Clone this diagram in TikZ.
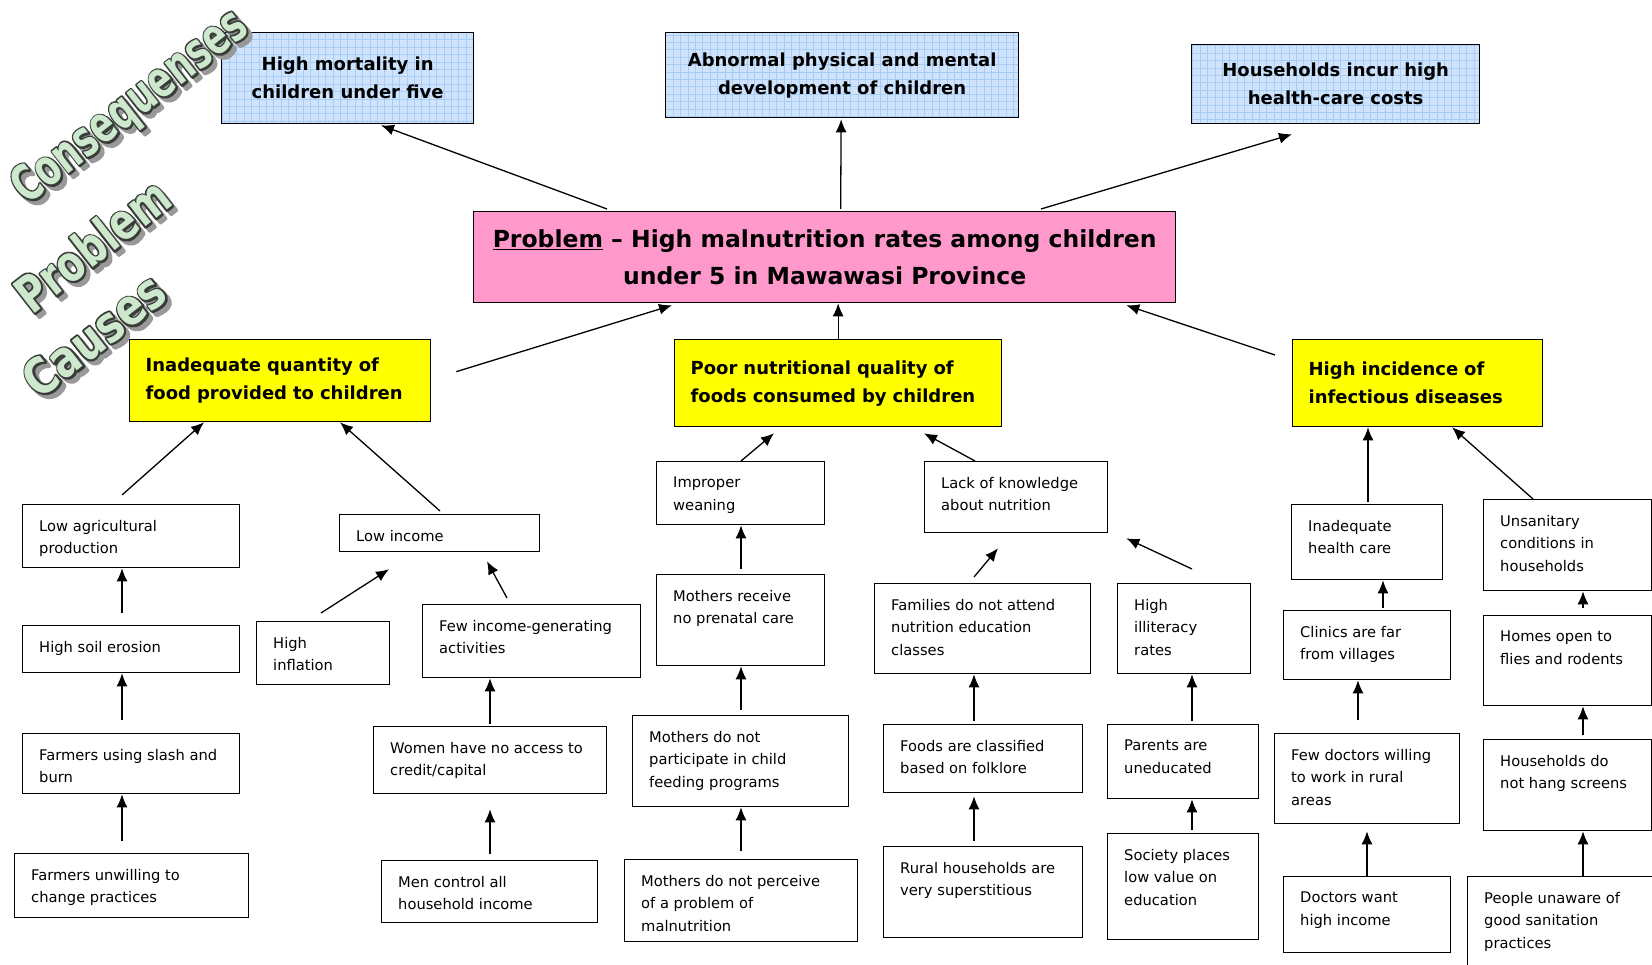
\documentclass[tikz,border=0pt]{standalone}
\usepackage{fontspec}
\setmainfont{DejaVu Sans}
\usetikzlibrary{arrows.meta}

\definecolor{probpink}{HTML}{FF99CC}
\definecolor{causeyellow}{HTML}{FFFF00}
\definecolor{conseqblue}{HTML}{CFE4FC}
\definecolor{gridblue}{HTML}{A8CDF4}
\definecolor{titlegreen}{HTML}{CDE8CD}
\definecolor{titleline}{HTML}{383C38}

% thickened word art: stroke colour (rgb) and the word
\newcommand{\outlinetext}[2]{\special{pdf:literal direct #1 RG 4.2 w 1 j 2 Tr}#2\special{pdf:literal direct 0 Tr}}

\tikzset{
	conseq/.style={draw, line width=1.3pt, fill=conseqblue, anchor=north west, align=center,
		font=\bfseries\fontsize{18}{28}\selectfont,
		path picture={\draw[gridblue, line width=0.7pt] (path picture bounding box.south west) grid[step=7.4pt] (path picture bounding box.north east);}},
	problem/.style={draw, line width=1.3pt, fill=probpink, anchor=north west, align=center,
		font=\bfseries\fontsize{23.5}{37}\selectfont},
	cause/.style={draw, line width=1.3pt, fill=causeyellow, anchor=north west, align=left,
		inner xsep=16pt, font=\bfseries\fontsize{18}{28}\selectfont},
	subcause/.style={draw, line width=1.3pt, fill=white, anchor=north west, inner sep=0pt},
	subtext/.style={anchor=north west, align=left, inner xsep=17pt, inner ysep=16pt,
		font=\fontsize{14.7}{22.5}\selectfont},
	arr/.style={-{Latex[length=13pt,width=11pt]}, line width=1.3pt},
	wordart/.style={rotate=38, transform shape, inner sep=0pt,
		font=\bfseries\fontsize{50}{50}\selectfont}
}

\begin{document}
\begin{tikzpicture}[x=1pt, y=-1pt]

	% page of the reference, in pixels
	\useasboundingbox (0,0) rectangle (1652,965);
	\clip (0,0) rectangle (1652,965);
	\fill[white] (0,0) rectangle (1652,965);

	%macro for the plain boxes, text sits in the top left corner
	\newcommand{\subcause}[6]{
		\node[subcause, minimum width=#4pt, minimum height=#5pt, label={[subtext]north west:{#6}}] (#1) at (#2,#3) {};
	}

	% consequences
	\node[conseq, minimum width=252pt, minimum height=91pt] (mortality) at (221,32) {High mortality in\\children under five};
	\node[conseq, minimum width=353pt, minimum height=85pt] (development) at (665,32) {Abnormal physical and mental\\development of children};
	\node[conseq, minimum width=288pt, minimum height=79pt] (costs) at (1191,44) {Households incur high\\health-care costs};

	% problem
	\node[problem, minimum width=702pt, minimum height=91pt] (problem) at (473,211) {\underline{Problem} – High malnutrition rates among children\\under 5 in Mawawasi Province};

	% main causes
	\node[cause, text width=269pt, minimum height=82pt] (quantity) at (129,339) {Inadequate quantity of\\food provided to children};
	\node[cause, text width=295pt, minimum height=87pt] (quality) at (674,339) {Poor nutritional quality of\\foods consumed by children};
	\node[cause, text width=218pt, minimum height=87pt] (disease) at (1292,339) {High incidence of\\infectious diseases};

	% causes of the quantity
	\subcause{lowagri}{22}{504}{217}{63}{Low agricultural\\production}
	\subcause{soil}{22}{625}{217}{47}{High soil erosion}
	\subcause{slash}{22}{733}{217}{60}{Farmers using slash and\\burn}
	\subcause{unwilling}{14}{853}{234}{64}{Farmers unwilling to\\change practices}
	\subcause{lowinc}{339}{514}{200}{37}{Low income}
	\subcause{inflation}{256}{621}{133}{63}{High\\inflation}
	\subcause{fewinc}{422}{604}{218}{73}{Few income-generating\\activities}
	\subcause{women}{373}{726}{233}{67}{Women have no access to\\credit/capital}
	\subcause{men}{381}{860}{216}{62}{Men control all\\household income}

	% causes of the quality
	\subcause{weaning}{656}{461}{168}{63}{Improper\\weaning}
	\subcause{prenatal}{656}{574}{168}{91}{Mothers receive\\no prenatal care}
	\subcause{feeding}{632}{715}{216}{91}{Mothers do not\\participate in child\\feeding programs}
	\subcause{perceive}{624}{859}{233}{82}{Mothers do not perceive\\of a problem of\\malnutrition}
	\subcause{knowledge}{924}{461}{183}{71}{Lack of knowledge\\about nutrition}
	\subcause{families}{874}{583}{216}{90}{Families do not attend\\nutrition education\\classes}
	\subcause{illiteracy}{1117}{583}{133}{90}{High\\illiteracy\\rates}
	\subcause{folklore}{883}{724}{199}{68}{Foods are classified\\based on folklore}
	\subcause{parents}{1107}{724}{151}{74}{Parents are\\uneducated}
	\subcause{superst}{883}{846}{199}{91}{Rural households are\\very superstitious}
	\subcause{society}{1107}{833}{151}{106}{Society places\\low value on\\education}

	% causes of the diseases
	\subcause{healthcare}{1291}{504}{151}{75}{Inadequate\\health care}
	\subcause{unsanitary}{1483}{499}{168}{91}{Unsanitary\\conditions in\\households}
	\subcause{clinics}{1283}{610}{167}{69}{Clinics are far\\from villages}
	\subcause{homes}{1483}{615}{168}{90}{Homes open to\\flies and rodents}
	\subcause{doctors}{1274}{733}{185}{90}{Few doctors willing\\to work in rural\\areas}
	\subcause{screens}{1483}{739}{168}{91}{Households do\\not hang screens}
	\subcause{docincome}{1283}{876}{167}{76}{Doctors want\\high income}
	\subcause{unaware}{1467}{876}{220}{110}{People unaware of\\good sanitation\\practices}

	% problem to consequences
	\draw[arr] ([shift={(134,-2)}]problem.north west) -- ([shift={(160,1)}]mortality.south west);
	\draw[arr] ([shift={(16,-2)}]problem.north) -- ([shift={(-1,1)}]development.south);
	\draw[arr] ([shift={(568,-2)}]problem.north west) -- ([shift={(101,10)}]costs.south west);

	% main causes to problem
	\draw[arr] ([shift={(25,-9)}]quantity.east) -- ([shift={(199,2)}]problem.south west);
	\draw[arr] (quality.north) -- (quality.north |- problem.south);
	\draw[arr] ([shift={(-17,16)}]disease.north west) -- ([shift={(-50,2)}]problem.south east);

	% quantity branch
	\draw[arr] ([shift={(100,-9)}]lowagri.north west) -- ([shift={(75,0)}]quantity.south west);
	\draw[arr] ([shift={(101,-3)}]lowinc.north west) -- ([shift={(211,0)}]quantity.south west);
	\draw[arr] ([shift={(100,-12)}]soil.north west) -- ([shift={(100,0)}]lowagri.south west);
	\draw[arr] ([shift={(100,-13)}]slash.north west) -- ([shift={(100,0)}]soil.south west);
	\draw[arr] ([shift={(108,-12)}]unwilling.north west) -- ([shift={(100,0)}]slash.south west);
	\draw[arr] ([shift={(65,-8)}]inflation.north west) -- ([shift={(50,17)}]lowinc.south west);
	\draw[arr] ([shift={(85,-6)}]fewinc.north west) -- ([shift={(148,9)}]lowinc.south west);
	\draw[arr] ([shift={(117,-2)}]women.north west) -- ([shift={(68,0)}]fewinc.south west);
	\draw[arr] ([shift={(109,-6)}]men.north west) -- ([shift={(117,15)}]women.south west);

	% quality branch
	\draw[arr] ([shift={(85,0)}]weaning.north west) -- ([shift={(100,6)}]quality.south west);
	\draw[arr] ([shift={(51,0)}]knowledge.north west) -- ([shift={(250,6)}]quality.south west);
	\draw[arr] ([shift={(85,-5)}]prenatal.north west) -- ([shift={(85,0)}]weaning.south west);
	\draw[arr] ([shift={(109,-5)}]feeding.north west) -- ([shift={(85,0)}]prenatal.south west);
	\draw[arr] ([shift={(117,-8)}]perceive.north west) -- ([shift={(109,0)}]feeding.south west);
	\draw[arr] ([shift={(100,-6)}]families.north west) -- ([shift={(74,15)}]knowledge.south west);
	\draw[arr] ([shift={(75,-14)}]illiteracy.north west) -- ([shift={(18,5)}]knowledge.south east);
	\draw[arr] ([shift={(91,-3)}]folklore.north west) -- ([shift={(100,0)}]families.south west);
	\draw[arr] ([shift={(91,-5)}]superst.north west) -- ([shift={(91,3)}]folklore.south west);
	\draw[arr] ([shift={(85,-3)}]parents.north west) -- ([shift={(75,0)}]illiteracy.south west);
	\draw[arr] ([shift={(85,-3)}]society.north west) -- ([shift={(85,0)}]parents.south west);

	% disease branch
	\draw[arr] ([shift={(77,-2)}]healthcare.north west) -- ([shift={(76,0)}]disease.south west);
	\draw[arr] ([shift={(50,0)}]unsanitary.north west) -- ([shift={(160,0)}]disease.south west);
	\draw[arr] ([shift={(100,-2)}]clinics.north west) -- ([shift={(92,0)}]healthcare.south west);
	\draw[arr] ([shift={(84,-13)}]doctors.north west) -- ([shift={(75,0)}]clinics.south west);
	\draw[arr] ([shift={(84,0)}]docincome.north west) -- ([shift={(93,7)}]doctors.south west);
	\draw[arr] ([shift={(100,-7)}]homes.north west) -- ([shift={(100,0)}]unsanitary.south west);
	\draw[arr] ([shift={(100,-4)}]screens.north west) -- ([shift={(100,0)}]homes.south west);
	\draw[arr] ([shift={(116,0)}]unaware.north west) -- ([shift={(100,0)}]screens.south west);

	%WORD ART LAST, IT LIES OVER THE FIRST BLUE BOX
	% shadow, dark rim, green face
	\coordinate (tc1) at (131,108);
	\coordinate (tc2) at (92,245);
	\coordinate (tc3) at (94,335);
	\node[wordart, xscale=0.7, text=black!40] (tshadow1) at ([shift={(4,4)}]tc1) {\outlinetext{0.6 0.6 0.6}{Consequenses}};
	\node[wordart, xscale=0.77, text=black!40] (tshadow2) at ([shift={(4,4)}]tc2) {\outlinetext{0.6 0.6 0.6}{Problem}};
	\node[wordart, xscale=0.83, text=black!40] (tshadow3) at ([shift={(4,4)}]tc3) {\outlinetext{0.6 0.6 0.6}{Causes}};
	\node[wordart, xscale=0.7, text=titleline] (trim1) at (tc1) {\outlinetext{0.22 0.24 0.22}{Consequenses}};
	\node[wordart, xscale=0.77, text=titleline] (trim2) at (tc2) {\outlinetext{0.22 0.24 0.22}{Problem}};
	\node[wordart, xscale=0.83, text=titleline] (trim3) at (tc3) {\outlinetext{0.22 0.24 0.22}{Causes}};
	\node[wordart, xscale=0.7, text=titlegreen] (title1) at (tc1) {Consequenses};
	\node[wordart, xscale=0.77, text=titlegreen] (title2) at (tc2) {Problem};
	\node[wordart, xscale=0.83, text=titlegreen] (title3) at (tc3) {Causes};

\end{tikzpicture}
\end{document}
